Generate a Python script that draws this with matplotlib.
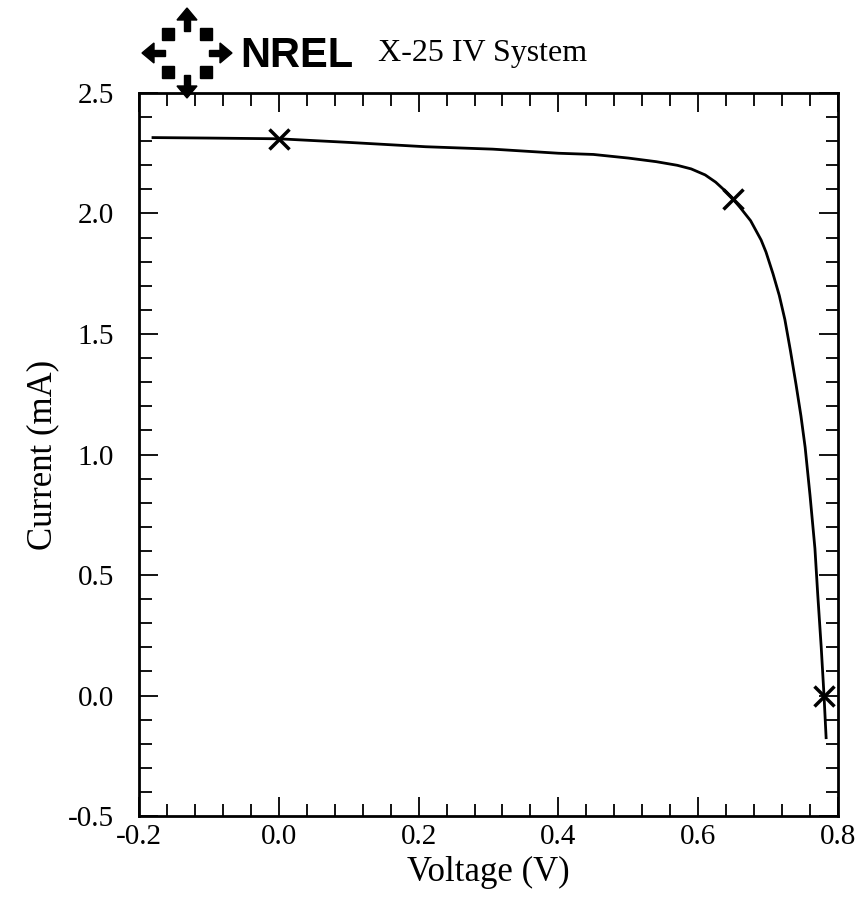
#!/usr/bin/env python3

# -----------------------------------------------------------------
# NREL X-25 IV system: current-voltage curve of a cell
# -----------------------------------------------------------------

import numpy as np
from matplotlib import pyplot as plt
import matplotlib.patches as patches
from matplotlib.ticker import MultipleLocator

# traced IV curve
voltage = [-0.18, -0.1, 0.0, 0.1, 0.21, 0.306, 0.4, 0.45, 0.5, 0.54, 0.57,
           0.59, 0.61, 0.625, 0.64, 0.65, 0.66, 0.675, 0.69, 0.697, 0.707,
           0.716, 0.724, 0.732, 0.74, 0.747, 0.753, 0.76, 0.767, 0.771, 0.776,
           0.78, 0.783]
current = [2.315, 2.313, 2.31, 2.295, 2.277, 2.267, 2.25, 2.245, 2.23, 2.215,
           2.2, 2.185, 2.16, 2.13, 2.09, 2.06, 2.025, 1.97, 1.89, 1.84, 1.75,
           1.66, 1.56, 1.43, 1.29, 1.16, 1.03, 0.83, 0.61, 0.42, 0.20, 0.0,
           -0.175]

# Isc, max power point, Voc
mark_v = [0.0, 0.65, 0.78]
mark_i = [2.31, 2.06, 0.0]

x_ticks = [-0.2, 0.0, 0.2, 0.4, 0.6, 0.8]
y_ticks = [-0.5, 0.0, 0.5, 1.0, 1.5, 2.0, 2.5]

serif = "Liberation Serif"

fig = plt.figure(figsize=(8.64, 9.09), dpi=100)
ax = fig.add_axes([0.1609, 0.1023, 0.809, 0.7954])

ax.plot(voltage, current, lw=2, color="k")
ax.plot(mark_v, mark_i, ls="none", marker="x", ms=14, mew=2.5, color="k")

ax.set_xlim(-0.2, 0.8)
ax.set_ylim(-0.5, 2.5)
ax.set_xticks(x_ticks)
ax.set_yticks(y_ticks)
ax.set_xticklabels(["%.1f" % v for v in x_ticks])
ax.set_yticklabels(["%.1f" % v for v in y_ticks])
ax.xaxis.set_minor_locator(MultipleLocator(0.04))
ax.yaxis.set_minor_locator(MultipleLocator(0.1))

ax.tick_params(which="both", direction="in", top=True, right=True,
               width=1.3, color="k")
ax.tick_params(which="major", length=14)
ax.tick_params(which="minor", length=9)
ax.tick_params(axis="x", which="major", pad=6, labelsize=21)
ax.tick_params(axis="y", which="major", pad=18, labelsize=21)
for lab in ax.get_xticklabels() + ax.get_yticklabels():
    lab.set_family(serif)

for sp in ax.spines.values():
    sp.set_linewidth(2)

ax.set_xlabel("Voltage (V)", family=serif, fontsize=25, labelpad=4)
ax.set_ylabel("Current (mA)", family=serif, fontsize=25, labelpad=6)

# header: logo + system name
fig.text(240 / 864, 1 - 67 / 909, "NREL", family="Liberation Sans",
         weight="bold", fontsize=30, va="baseline")
fig.text(378 / 864, 1 - 61 / 909, "X-25 IV System", family=serif,
         fontsize=23, va="baseline")

logo = fig.add_axes([(187 - 50) / 864, 1 - (53 + 50) / 909, 100 / 864, 100 / 909])
logo.set_xlim(-50, 50)
logo.set_ylim(-50, 50)
logo.set_aspect("equal")
logo.axis("off")
for ang in [90, 0, 270, 180]:
    a = np.radians(ang)
    c, s = np.cos(a), np.sin(a)
    # outward arrow head
    tip = np.array([45 * c, 45 * s])
    base = np.array([33 * c, 33 * s])
    side = np.array([-s, c]) * 10
    logo.add_patch(patches.Polygon([tip, base + side, base - side], color="k"))
    # short bar on the ring
    inner = np.array([22 * c, 22 * s])
    logo.add_patch(patches.Polygon(
        [base + side * 0.3, base - side * 0.3,
         inner - side * 0.3, inner + side * 0.3], color="k"))
for ang in [45, 135, 225, 315]:
    a = np.radians(ang)
    logo.add_patch(patches.RegularPolygon((27 * np.cos(a), 27 * np.sin(a)), 4,
                                          radius=9, orientation=a, color="k"))

plt.savefig("out.png", dpi=100)
